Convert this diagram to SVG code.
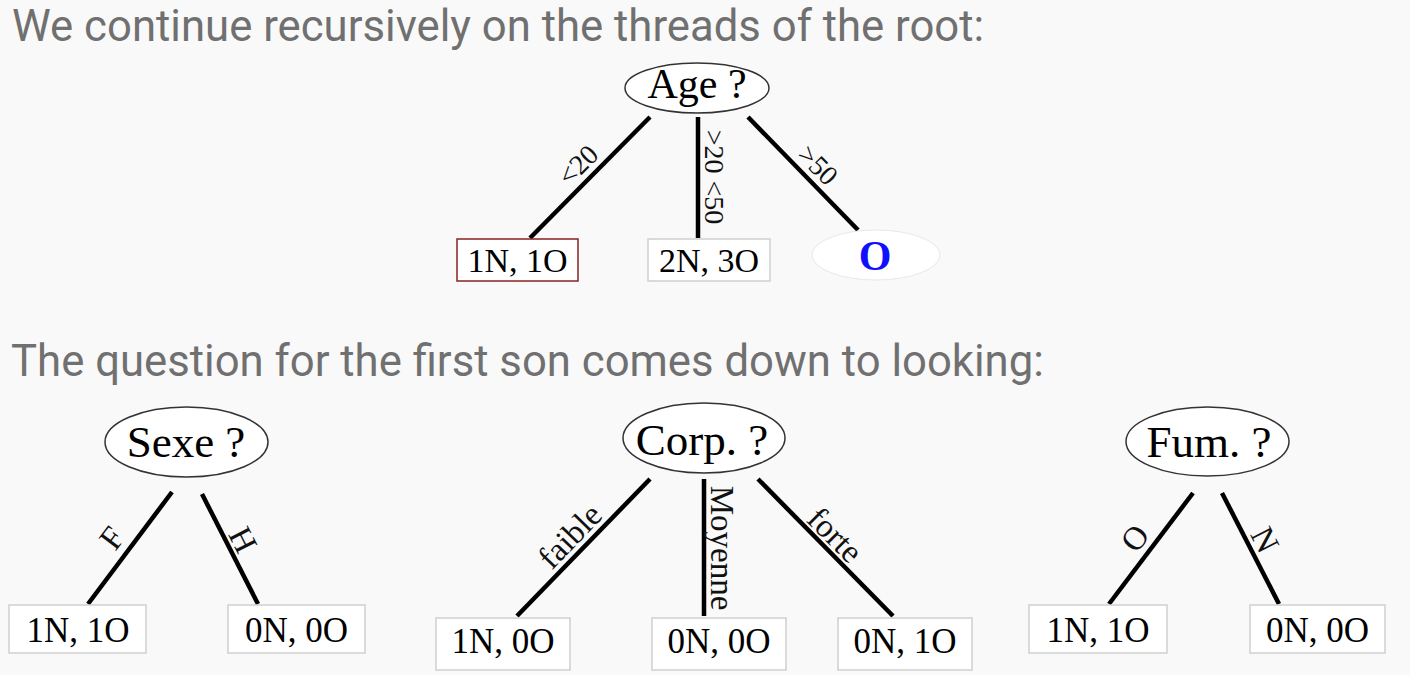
<svg xmlns="http://www.w3.org/2000/svg" width="1410" height="675" viewBox="0 0 1410 675">
<style>
.hdr{font-family:Roboto,"Liberation Sans",sans-serif;font-size:43.7px;fill:#707070}
.q{font-family:"Liberation Serif",serif;fill:#000;text-anchor:middle}
.lbl{font-family:"Liberation Serif",serif;fill:#111;text-anchor:middle;dominant-baseline:central}
.ell{fill:#fff;stroke:#333;stroke-width:1.5}
.box{fill:#fff;stroke:#cfcfcf;stroke-width:1.5}
.edge{stroke:#000;stroke-width:4.5;fill:none}
</style>
<rect width="1410" height="675" fill="#f9f9f9"/>
<text class="hdr" x="12" y="41">We continue recursively on the threads of the root:</text>
<text class="hdr" x="11" y="376">The question for the first son comes down to looking:</text>

<g id="connectors">
<line class="edge" x1="650" y1="117" x2="530" y2="238"/>
<line class="edge" x1="698" y1="117" x2="698" y2="238"/>
<line class="edge" x1="748" y1="117" x2="858" y2="230"/>
<line class="edge" x1="172" y1="492" x2="88" y2="604"/>
<line class="edge" x1="202" y1="494" x2="258" y2="604"/>
<line class="edge" x1="650" y1="479" x2="517" y2="616"/>
<line class="edge" x1="704" y1="479" x2="704" y2="616"/>
<line class="edge" x1="758" y1="479" x2="893" y2="616"/>
<line class="edge" x1="1193" y1="493" x2="1109" y2="604"/>
<line class="edge" x1="1222" y1="493" x2="1279" y2="604"/>
<text class="lbl" font-size="28" transform="translate(578 165) rotate(-45)">&lt;20</text>
<text class="lbl" font-size="28" transform="translate(714 177) rotate(90)">&gt;20 &lt;50</text>
<text class="lbl" font-size="28" transform="translate(818 165) rotate(45)">&gt;50</text>
<text class="lbl" font-size="33" transform="translate(112 538) rotate(-53)">F</text>
<text class="lbl" font-size="33" transform="translate(243 540) rotate(63)">H</text>
<text class="lbl" font-size="33" transform="translate(570 536) rotate(-46)">faible</text>
<text class="lbl" font-size="33" transform="translate(722 548) rotate(90)">Moyenne</text>
<text class="lbl" font-size="33" transform="translate(835 535) rotate(45)">forte</text>
<text class="lbl" font-size="33" transform="translate(1135 538) rotate(-53)">O</text>
<text class="lbl" font-size="33" transform="translate(1265 540) rotate(63)">N</text>
</g>

<g id="age">
<ellipse class="ell" cx="697" cy="88" rx="72" ry="25"/>
<text class="q" x="697" y="98" font-size="42">Age ?</text>
</g>
<g id="age-lt20">
<rect x="457" y="239" width="121" height="42" fill="#fff" stroke="#8b2020" stroke-width="1.5"/>
<text class="q" x="517.5" y="272" font-size="34">1N, 1O</text>
</g>
<g id="age-20-50">
<rect class="box" x="648" y="239" width="122" height="42"/>
<text class="q" x="709" y="272" font-size="34">2N, 3O</text>
</g>
<g id="age-gt50">
<ellipse cx="876" cy="255" rx="64" ry="25" fill="#fff" stroke="#e8e8e8" stroke-width="1"/>
<text x="875" y="270" font-family="'Liberation Serif',serif" font-weight="bold" font-size="42" fill="#1010ff" text-anchor="middle">O</text>
</g>

<g id="sexe">
<ellipse class="ell" cx="186.5" cy="442" rx="81.5" ry="35"/>
<text class="q" x="186" y="457" font-size="45">Sexe ?</text>
</g>
<g id="sexe-f">
<rect class="box" x="9" y="605" width="137" height="48"/>
<text class="q" x="78" y="642" font-size="35">1N, 1O</text>
</g>
<g id="sexe-h">
<rect class="box" x="228" y="605" width="137" height="48"/>
<text class="q" x="296.5" y="642" font-size="35">0N, 0O</text>
</g>

<g id="corp">
<ellipse class="ell" cx="704" cy="438" rx="81" ry="35"/>
<text class="q" x="702" y="455" font-size="45">Corp. ?</text>
</g>
<g id="corp-faible">
<rect class="box" x="436" y="618" width="134" height="52"/>
<text class="q" x="503" y="653" font-size="35">1N, 0O</text>
</g>
<g id="corp-moyenne">
<rect class="box" x="652" y="618" width="134" height="52"/>
<text class="q" x="719" y="653" font-size="35">0N, 0O</text>
</g>
<g id="corp-forte">
<rect class="box" x="838" y="618" width="134" height="52"/>
<text class="q" x="905" y="653" font-size="35">0N, 1O</text>
</g>

<g id="fum">
<ellipse class="ell" cx="1207.5" cy="441.5" rx="81.5" ry="34.5"/>
<text class="q" x="1209" y="457" font-size="45">Fum. ?</text>
</g>
<g id="fum-o">
<rect class="box" x="1029" y="605" width="138" height="48"/>
<text class="q" x="1098" y="642" font-size="35">1N, 1O</text>
</g>
<g id="fum-n">
<rect class="box" x="1250" y="605" width="135" height="48"/>
<text class="q" x="1317.5" y="642" font-size="35">0N, 0O</text>
</g>
</svg>
